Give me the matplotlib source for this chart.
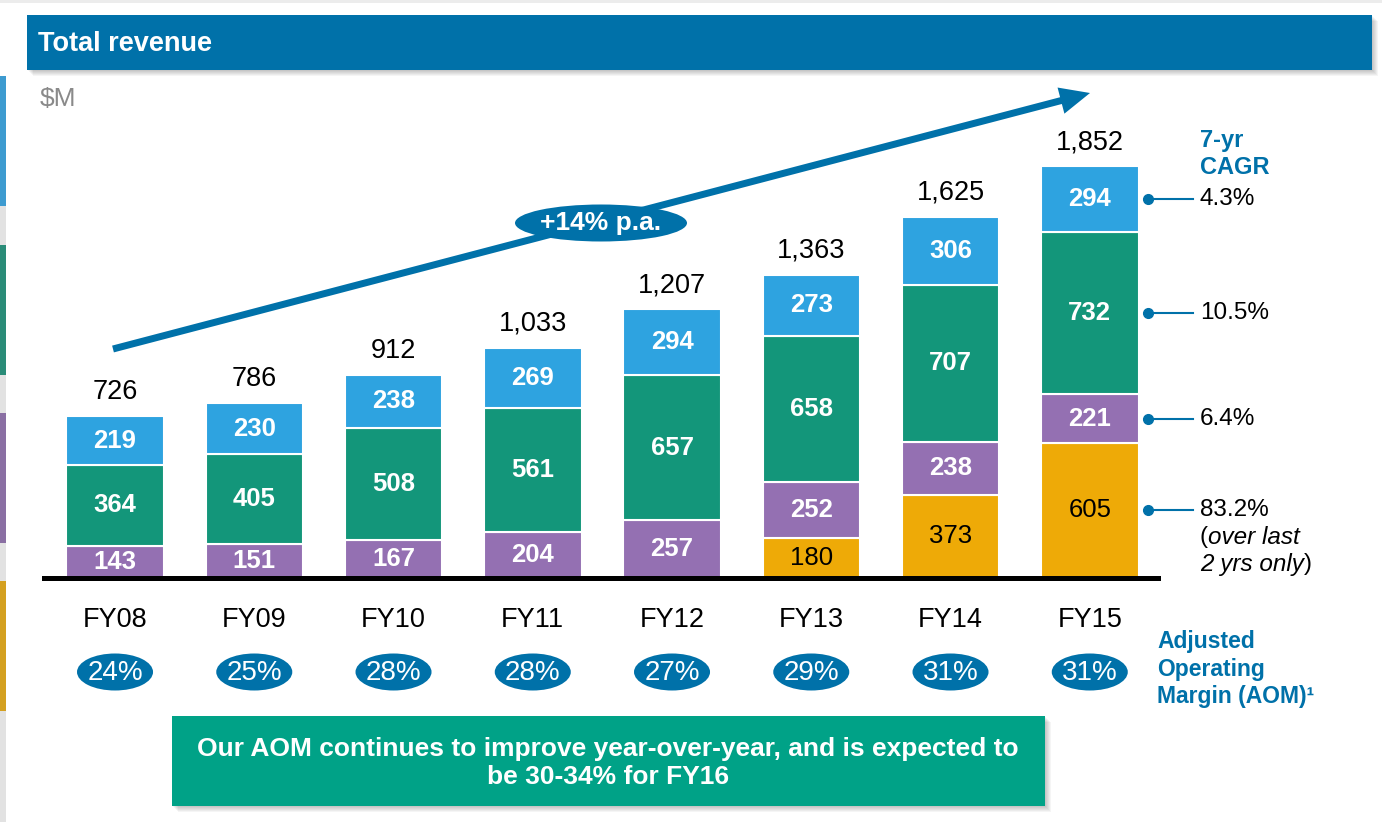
import matplotlib
matplotlib.use("Agg")
from matplotlib import pyplot as plt
from matplotlib.patches import Rectangle, Ellipse, FancyArrow
import matplotlib.transforms as mtransforms
import numpy as np

plt.rcParams["font.family"] = ["Liberation Sans", "DejaVu Sans"]

YEARS = ["FY08", "FY09", "FY10", "FY11", "FY12", "FY13", "FY14", "FY15"]
GOLD = [0, 0, 0, 0, 0, 180, 373, 605]
PURPLE = [143, 151, 167, 204, 257, 252, 238, 221]
GREEN = [364, 405, 508, 561, 657, 658, 707, 732]
BLUE = [219, 230, 238, 269, 294, 273, 306, 294]
TOTALS = [726, 786, 912, 1033, 1207, 1363, 1625, 1852]
AOM = ["24%", "25%", "28%", "28%", "27%", "29%", "31%", "31%"]
CAGR = ["4.3%", "10.5%", "6.4%", "83.2%"]  # blue, green, purple, gold
GROWTH = "+14% p.a."

DARK_BLUE = "#0071A9"
C_BLUE = "#2EA3E0"
C_GREEN = "#13967A"
C_PURPLE = "#9470B2"
C_GOLD = "#EEAA07"
TEAL = "#00A287"

W, H = 1382, 822
fig = plt.figure(figsize=(W / 100, H / 100), dpi=100)

# overlay axes in pixel coordinates for the slide decoration
ov = fig.add_axes([0, 0, 1, 1])
ov.set_xlim(0, W)
ov.set_ylim(H, 0)
ov.axis("off")


def shadow(x, y, w, h, steps=6):
    for k in range(1, steps + 1):
        ov.add_patch(Rectangle((x + k, y + k), w, h, color="black", alpha=0.04, lw=0, zorder=1))


# left edge strips
ov.add_patch(Rectangle((0, 0), W, 3, color="#ECECEC", lw=0))
ov.add_patch(Rectangle((0, 76), 6, H - 76, color="#E2E2E2", lw=0))
for y0, y1, c in [(76, 206, "#3D9BD0"), (245, 375, "#2A8C78"),
                  (413, 543, "#8A6FA3"), (581, 711, "#D4A020")]:
    ov.add_patch(Rectangle((0, y0), 6, y1 - y0, color=c, lw=0))

# title bar
shadow(27, 15, 1345, 55)
ov.add_patch(Rectangle((27, 15), 1345, 55, color=DARK_BLUE, lw=0, zorder=2))
ov.text(38, 44, "Total revenue", color="white", fontsize=19.5, fontweight="bold",
        va="center", ha="left", zorder=3)
ov.text(40, 99, "$M", color="#8A8A8A", fontsize=19, va="center", ha="left")

# bar axes
scale = 0.222
ax = fig.add_axes([44 / W, (H - 577.5) / H, (1158 - 44) / W, 2000 * scale / H])
ax.patch.set_alpha(0)
ax.set_xlim(-0.51, 7.49)
ax.set_ylim(0, 2000)
for s in ["top", "left", "right"]:
    ax.spines[s].set_visible(False)
ax.spines["bottom"].set_linewidth(3.6)
ax.spines["bottom"].set_color("black")
ax.set_xticks([])
ax.set_yticks([])

x = np.arange(len(YEARS))
bottom = np.zeros(len(YEARS))
centers = {}
for name, vals, col, tcol, weight in [("gold", GOLD, C_GOLD, "black", "normal"),
                                      ("purple", PURPLE, C_PURPLE, "white", "bold"),
                                      ("green", GREEN, C_GREEN, "white", "bold"),
                                      ("blue", BLUE, C_BLUE, "white", "bold")]:
    vals = np.array(vals, dtype=float)
    ax.bar(x, vals, 0.70, bottom=bottom, color=col, edgecolor="white", linewidth=1.5)
    for i, v in enumerate(vals):
        if v > 0:
            ax.text(i, bottom[i] + v / 2, f"{int(v)}", color=tcol, fontsize=18.5,
                    fontweight=weight, ha="center", va="center")
    centers[name] = bottom[-1] + vals[-1] / 2
    bottom = bottom + vals

for i, t in enumerate(TOTALS):
    ax.annotate(f"{t:,}", (i, bottom[i]), xytext=(0, 24), textcoords="offset pixels",
                ha="center", va="center", fontsize=19.5, color="black")

# x labels and AOM ellipses (x from bar axes, y in pixels)
bt = mtransforms.blended_transform_factory(ax.transData, ov.transData)
for i, (yr, m) in enumerate(zip(YEARS, AOM)):
    ov.text(i, 620, yr, transform=bt, ha="center", va="center", fontsize=19.5)
    ov.add_patch(Ellipse((i, 672), 0.546, 37, transform=bt, color=DARK_BLUE, lw=0))
    ov.text(i, 673, m, transform=bt, ha="center", va="center", fontsize=20, color="white")

# growth arrow
ov.add_patch(FancyArrow(113, 349, 1090 - 113, 93 - 349, width=7, head_width=27,
                        head_length=30, length_includes_head=True, color=DARK_BLUE, lw=0))
ov.add_patch(Ellipse((601, 223), 172, 37, color=DARK_BLUE, lw=0, zorder=3))
ov.text(601, 223, GROWTH, color="white", fontsize=19, fontweight="bold",
        ha="center", va="center", zorder=4)

# CAGR call-outs
bt2 = mtransforms.blended_transform_factory(ov.transData, ax.transData)
ov.text(1200, 154, "7-yr\nCAGR", color=DARK_BLUE, fontsize=17, fontweight="bold",
        ha="left", va="center", linespacing=1.2)
fs = 17.5
for key, lab in zip(["blue", "green", "purple", "gold"], CAGR):
    yv = centers[key]
    ov.plot([1148, 1193], [yv, yv], transform=bt2, color=DARK_BLUE, lw=1.5)
    ov.plot([1148], [yv], transform=bt2, marker="o", markersize=7, color=DARK_BLUE)
    ov.annotate(lab, (1200, yv), xycoords=bt2, ha="left", va="center", fontsize=fs)
    if key == "gold":
        ov.annotate("(", (1200, yv), xycoords=bt2, xytext=(0, -27), textcoords="offset pixels",
                    ha="left", va="center", fontsize=fs)
        ov.annotate("over last", (1200, yv), xycoords=bt2, xytext=(8, -27),
                    textcoords="offset pixels", ha="left", va="center", fontsize=fs,
                    style="italic")
        ov.annotate("2 yrs only", (1200, yv), xycoords=bt2, xytext=(0, -54),
                    textcoords="offset pixels", ha="left", va="center", fontsize=fs,
                    style="italic")
        ov.annotate(")", (1200, yv), xycoords=bt2, xytext=(104, -54),
                    textcoords="offset pixels", ha="left", va="center", fontsize=fs)

ov.text(1157, 669, "Adjusted\nOperating\nMargin (AOM)\u00b9", color=DARK_BLUE, fontsize=16.5,
        fontweight="bold", ha="left", va="center", linespacing=1.27)

# bottom message box
shadow(172, 716, 873, 90)
ov.add_patch(Rectangle((172, 716), 873, 90, color=TEAL, lw=0, zorder=2))
ov.text(608, 763, "Our AOM continues to improve year-over-year, and is expected to\nbe 30-34% for FY16",
        color="white", fontsize=19, fontweight="bold", ha="center", va="center",
        linespacing=1.2, zorder=3)

fig.savefig("out.png", dpi=100)
